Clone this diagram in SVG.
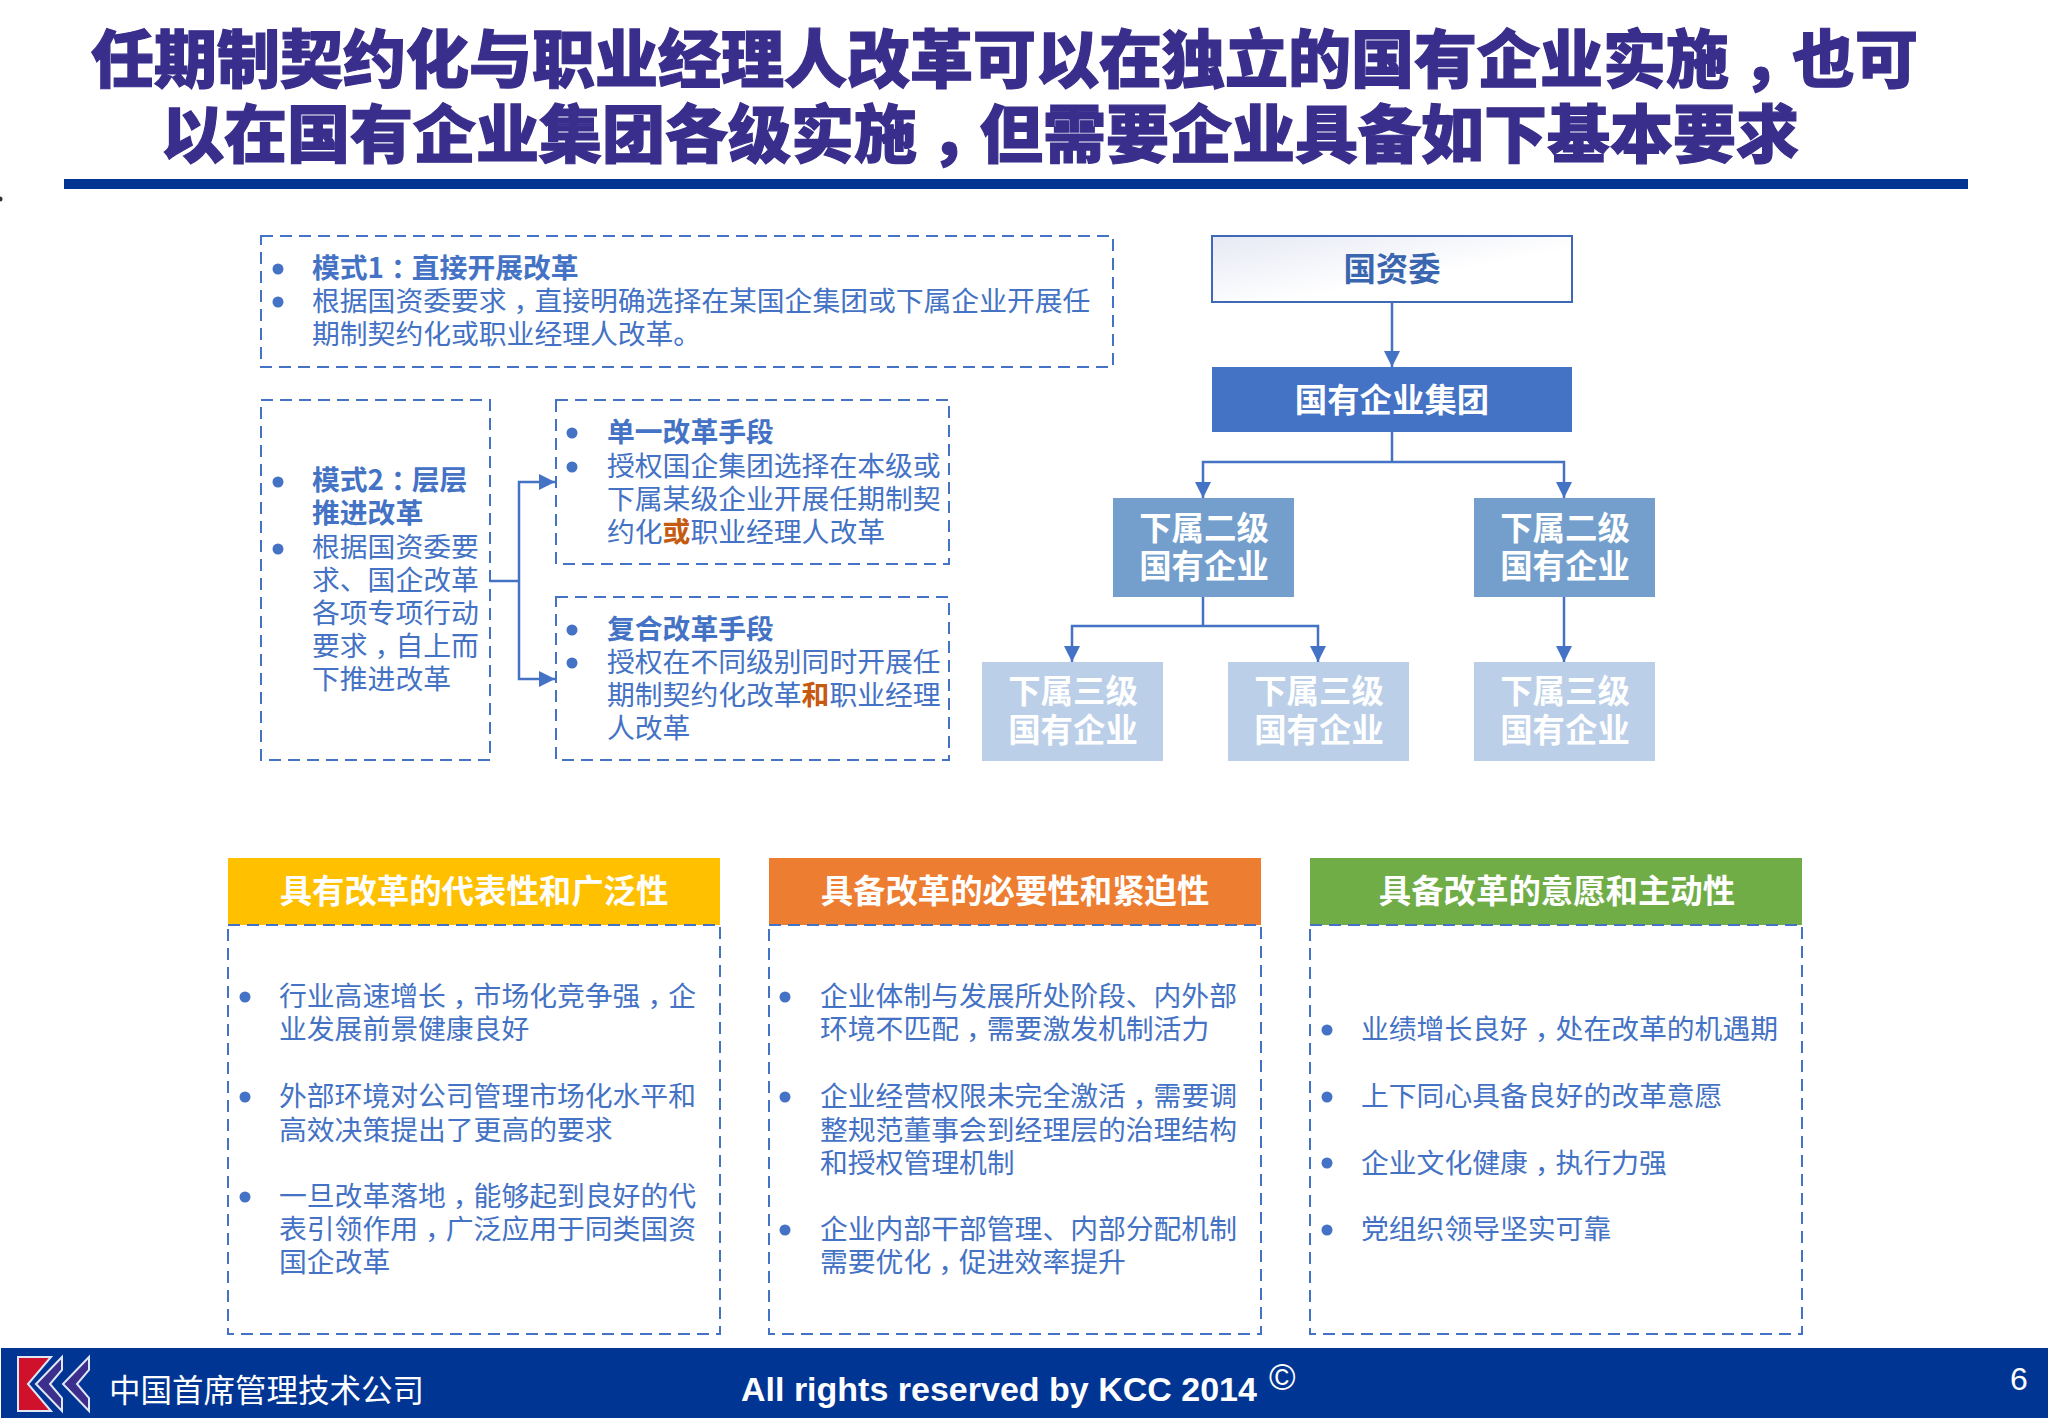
<svg xmlns="http://www.w3.org/2000/svg" width="2048" height="1418" viewBox="0 0 2048 1418">
<style>
text{font-family:"Noto Sans CJK SC","Noto Sans",sans-serif}
.title{font-size:63px;font-weight:900;fill:#3a2e8c;stroke:#3a2e8c;stroke-width:1.2}
.b{font-size:27.8px;fill:#4472c4}
.bb{font-size:27.8px;font-weight:700;fill:#4472c4}
.em{font-weight:700;fill:#c55a11}
.d{fill:none;stroke:#4472c4;stroke-width:2;stroke-dasharray:12 7}
.dot{fill:#4472c4}
.h{font-size:32.4px;font-weight:700;fill:#fff;text-anchor:middle}
.c{fill:none;stroke:#4472c4;stroke-width:2.5}
.ca{fill:none;stroke:#4472c4;stroke-width:2.5;marker-end:url(#arr)}
</style>
<defs>
<marker id="arr" markerUnits="userSpaceOnUse" markerWidth="16" markerHeight="16" refX="16" refY="8" orient="auto"><path d="M0 0L16 8L0 16Z" fill="#4472c4"/></marker>
<linearGradient id="g" x1="0" y1="0" x2="1" y2="1"><stop offset="0" stop-color="#e6e9f4"/><stop offset="0.6" stop-color="#fff"/></linearGradient>
</defs>
<rect width="2048" height="1418" fill="#fff"/>
<g id="title">
<text class="title" x="91" y="82">任期制契约化与职业经理人改革可以在独立的国有企业实施<tspan dx="13">，</tspan><tspan dx="-13">也可</tspan></text>
<text class="title" x="161" y="157">以在国有企业集团各级实施<tspan dx="13">，</tspan><tspan dx="-13">但需要企业具备如下基本要求</tspan></text>
<rect x="64" y="179" width="1904" height="10" fill="#003594"/>
<circle cx="0" cy="199" r="2.5" fill="#333"/>
</g>
<g id="connectors">
<path class="ca" d="M1392 302V367"/>
<path class="c" d="M1392 432V462"/>
<path class="ca" d="M1392 462H1203V498"/>
<path class="ca" d="M1392 462H1564V498"/>
<path class="c" d="M1203 597V626"/>
<path class="ca" d="M1203 626H1072V662"/>
<path class="ca" d="M1203 626H1318V662"/>
<path class="ca" d="M1564 597V662"/>
<path class="c" d="M490 581H519"/>
<path class="ca" d="M519 581V482H555"/>
<path class="ca" d="M519 581V679H555"/>
</g>
<g id="mode1">
<rect class="d" x="261" y="236" width="852" height="131"/>
<circle class="dot" cx="278" cy="269" r="5.5"/><circle class="dot" cx="278" cy="302" r="5.5"/>
<text class="bb" x="312" y="278">模式1<tspan dx="7">：</tspan><tspan dx="-7">直接开展改革</tspan></text>
<text class="b" x="312" y="311">根据国资委要求<tspan dx="7">，</tspan><tspan dx="-7">直接明确选择在某国企集团或下属企业开展任</tspan></text>
<text class="b" x="312" y="344">期制契约化或职业经理人改革。</text>
</g>
<g id="mode2">
<rect class="d" x="261" y="400" width="229" height="360"/>
<circle class="dot" cx="278" cy="482" r="5.5"/><circle class="dot" cx="278" cy="549" r="5.5"/>
<text class="bb" x="312" y="490">模式2<tspan dx="7">：</tspan><tspan dx="-7">层层</tspan></text>
<text class="bb" x="312" y="523">推进改革</text>
<text class="b" x="312" y="557">根据国资委要</text>
<text class="b" x="312" y="590">求、国企改革</text>
<text class="b" x="312" y="623">各项专项行动</text>
<text class="b" x="312" y="656">要求<tspan dx="7">，</tspan><tspan dx="-7">自上而</tspan></text>
<text class="b" x="312" y="689">下推进改革</text>
</g>
<g id="single">
<rect class="d" x="556" y="400" width="393" height="164"/>
<circle class="dot" cx="572" cy="433" r="5.5"/><circle class="dot" cx="572" cy="467" r="5.5"/>
<text class="bb" x="607" y="442">单一改革手段</text>
<text class="b" x="607" y="476">授权国企集团选择在本级或</text>
<text class="b" x="607" y="509">下属某级企业开展任期制契</text>
<text class="b" x="607" y="542">约化<tspan class="em">或</tspan>职业经理人改革</text>
</g>
<g id="composite">
<rect class="d" x="556" y="597" width="393" height="163"/>
<circle class="dot" cx="572" cy="630" r="5.5"/><circle class="dot" cx="572" cy="663" r="5.5"/>
<text class="bb" x="607" y="639">复合改革手段</text>
<text class="b" x="607" y="672">授权在不同级别同时开展任</text>
<text class="b" x="607" y="705">期制契约化改革<tspan class="em">和</tspan>职业经理</text>
<text class="b" x="607" y="738">人改革</text>
</g>
<g id="sasac">
<rect x="1212" y="236" width="360" height="66" fill="url(#g)" stroke="#3f68b5" stroke-width="2"/>
<text class="h" x="1392" y="281" style="fill:#3a66b0">国资委</text>
</g>
<g id="group">
<rect x="1212" y="367" width="360" height="65" fill="#4472c4"/>
<text class="h" x="1392" y="412">国有企业集团</text>
</g>
<g id="l2a">
<rect x="1113" y="498" width="181" height="99" fill="#749fcd"/>
<text class="h" x="1204" y="540">下属二级</text>
<text class="h" x="1204" y="578">国有企业</text>
</g>
<g id="l2b">
<rect x="1474" y="498" width="181" height="99" fill="#749fcd"/>
<text class="h" x="1565" y="540">下属二级</text>
<text class="h" x="1565" y="578">国有企业</text>
</g>
<g id="l3a">
<rect x="982" y="662" width="181" height="99" fill="#bbcfe8"/>
<text class="h" x="1073" y="703">下属三级</text>
<text class="h" x="1073" y="742">国有企业</text>
</g>
<g id="l3b">
<rect x="1228" y="662" width="181" height="99" fill="#bbcfe8"/>
<text class="h" x="1319" y="703">下属三级</text>
<text class="h" x="1319" y="742">国有企业</text>
</g>
<g id="l3c">
<rect x="1474" y="662" width="181" height="99" fill="#bbcfe8"/>
<text class="h" x="1565" y="703">下属三级</text>
<text class="h" x="1565" y="742">国有企业</text>
</g>
<g id="col1">
<rect class="d" x="228" y="925" width="492" height="409"/>
<rect x="228" y="858" width="492" height="67" fill="#ffc000"/>
<path class="d" d="M228 925H720"/>
<text class="h" x="474" y="903">具有改革的代表性和广泛性</text>
<circle class="dot" cx="245" cy="997" r="5.5"/><circle class="dot" cx="245" cy="1097" r="5.5"/><circle class="dot" cx="245" cy="1197" r="5.5"/>
<text class="b" x="279" y="1006">行业高速增长<tspan dx="7">，</tspan><tspan dx="-7">市场化竞争强</tspan><tspan dx="7">，</tspan><tspan dx="-7">企</tspan></text>
<text class="b" x="279" y="1039">业发展前景健康良好</text>
<text class="b" x="279" y="1106">外部环境对公司管理市场化水平和</text>
<text class="b" x="279" y="1140">高效决策提出了更高的要求</text>
<text class="b" x="279" y="1206">一旦改革落地<tspan dx="7">，</tspan><tspan dx="-7">能够起到良好的代</tspan></text>
<text class="b" x="279" y="1239">表引领作用<tspan dx="7">，</tspan><tspan dx="-7">广泛应用于同类国资</tspan></text>
<text class="b" x="279" y="1272">国企改革</text>
</g>
<g id="col2">
<rect class="d" x="769" y="925" width="492" height="409"/>
<rect x="769" y="858" width="492" height="67" fill="#ed7d31"/>
<path class="d" d="M769 925H1261"/>
<text class="h" x="1015" y="903">具备改革的必要性和紧迫性</text>
<circle class="dot" cx="785" cy="997" r="5.5"/><circle class="dot" cx="785" cy="1097" r="5.5"/><circle class="dot" cx="785" cy="1230" r="5.5"/>
<text class="b" x="820" y="1006">企业体制与发展所处阶段、内外部</text>
<text class="b" x="820" y="1039">环境不匹配<tspan dx="7">，</tspan><tspan dx="-7">需要激发机制活力</tspan></text>
<text class="b" x="820" y="1106">企业经营权限未完全激活<tspan dx="7">，</tspan><tspan dx="-7">需要调</tspan></text>
<text class="b" x="820" y="1140">整规范董事会到经理层的治理结构</text>
<text class="b" x="820" y="1173">和授权管理机制</text>
<text class="b" x="820" y="1239">企业内部干部管理、内部分配机制</text>
<text class="b" x="820" y="1272">需要优化<tspan dx="7">，</tspan><tspan dx="-7">促进效率提升</tspan></text>
</g>
<g id="col3">
<rect class="d" x="1310" y="925" width="492" height="409"/>
<rect x="1310" y="858" width="492" height="67" fill="#70ad47"/>
<path class="d" d="M1310 925H1802"/>
<text class="h" x="1557" y="903">具备改革的意愿和主动性</text>
<circle class="dot" cx="1327" cy="1030" r="5.5"/><circle class="dot" cx="1327" cy="1097" r="5.5"/><circle class="dot" cx="1327" cy="1163" r="5.5"/><circle class="dot" cx="1327" cy="1230" r="5.5"/>
<text class="b" x="1361" y="1039">业绩增长良好<tspan dx="7">，</tspan><tspan dx="-7">处在改革的机遇期</tspan></text>
<text class="b" x="1361" y="1106">上下同心具备良好的改革意愿</text>
<text class="b" x="1361" y="1173">企业文化健康<tspan dx="7">，</tspan><tspan dx="-7">执行力强</tspan></text>
<text class="b" x="1361" y="1239">党组织领导坚实可靠</text>
</g>
<g id="footer">
<rect x="1" y="1348" width="2047" height="70" fill="#003594"/>
<path d="M18 1357H51L28 1384L51 1411H18Z" fill="#d0112b" stroke="#dfe6f4" stroke-width="2"/>
<path d="M62 1357L36 1384L62 1411V1398L50 1384L62 1370Z" fill="#3c2e8c" stroke="#dfe6f4" stroke-width="2"/>
<path d="M89 1357L63 1384L89 1411V1398L77 1384L89 1370Z" fill="#3c2e8c" stroke="#dfe6f4" stroke-width="2"/>
<text x="109" y="1402" font-size="31.5" fill="#fff">中国首席管理技术公司</text>
<text x="741" y="1401" font-size="34" font-weight="700" fill="#fff" style="font-family:'Liberation Sans',sans-serif">All rights reserved by KCC 2014</text>
<text x="1269" y="1390" font-size="36" fill="#fff" style="font-family:'Liberation Sans',sans-serif">©</text>
<text x="2010" y="1390" font-size="32" fill="#fff" style="font-family:'Liberation Sans',sans-serif">6</text>
</g>
</svg>
